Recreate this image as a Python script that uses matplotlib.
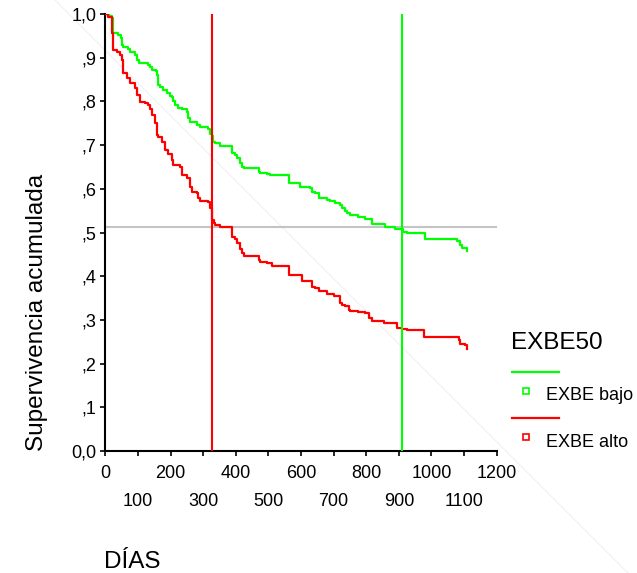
import matplotlib
matplotlib.use("Agg")
import matplotlib.pyplot as plt
from matplotlib.lines import Line2D
from matplotlib.ticker import FixedLocator, FixedFormatter

plt.rcParams['font.family'] = ['Liberation Sans', 'DejaVu Sans']

# Kaplan-Meier step data (time, cumulative survival)
bajo_t = [0, 10, 20, 25, 40, 47, 50, 55, 71, 76, 86, 91, 96, 104, 122, 132, 137, 142, 155, 158,
          163, 168, 178, 188, 198, 204, 209, 214, 224, 234, 250, 255, 260, 280, 290, 316, 321,
          326, 331, 337, 352, 388, 398, 403, 413, 418, 424, 470, 475, 490, 495, 505, 562, 597,
          628, 633, 643, 654, 679, 689, 705, 720, 725, 735, 741, 751, 776, 797, 817, 858, 889,
          914, 925, 981, 1078, 1088, 1093, 1109]
bajo_s = [1.0, 0.995, 0.99, 0.957, 0.952, 0.944, 0.929, 0.925, 0.921, 0.914, 0.912, 0.906, 0.895,
          0.889, 0.887, 0.883, 0.878, 0.872, 0.870, 0.860, 0.838, 0.832, 0.826, 0.819, 0.812,
          0.809, 0.802, 0.792, 0.786, 0.782, 0.776, 0.761, 0.754, 0.746, 0.741, 0.736, 0.725,
          0.721, 0.708, 0.704, 0.698, 0.683, 0.677, 0.670, 0.658, 0.651, 0.647, 0.639, 0.637,
          0.636, 0.634, 0.632, 0.613, 0.603, 0.601, 0.593, 0.590, 0.578, 0.574, 0.571, 0.568,
          0.563, 0.556, 0.550, 0.545, 0.540, 0.536, 0.531, 0.519, 0.512, 0.507, 0.502, 0.500,
          0.484, 0.480, 0.471, 0.464, 0.457]

alto_t = [0, 9, 20, 25, 35, 45, 50, 55, 66, 76, 91, 96, 106, 122, 132, 137, 142, 153, 158, 163,
          173, 183, 193, 204, 209, 229, 234, 250, 260, 265, 280, 285, 291, 316, 321, 326, 332,
          337, 352, 388, 398, 403, 413, 418, 424, 470, 475, 495, 510, 562, 602, 628, 633, 643,
          654, 679, 700, 720, 725, 735, 746, 751, 776, 797, 807, 817, 853, 894, 909, 925, 976,
          1083, 1088, 1104, 1109]
alto_s = [1.0, 0.994, 0.956, 0.918, 0.914, 0.906, 0.895, 0.864, 0.853, 0.843, 0.830, 0.815,
          0.799, 0.797, 0.792, 0.782, 0.769, 0.750, 0.723, 0.718, 0.708, 0.689, 0.680, 0.666,
          0.654, 0.651, 0.632, 0.624, 0.605, 0.593, 0.590, 0.578, 0.571, 0.569, 0.555, 0.529,
          0.522, 0.517, 0.513, 0.490, 0.484, 0.477, 0.462, 0.452, 0.446, 0.438, 0.433, 0.430,
          0.423, 0.403, 0.390, 0.388, 0.376, 0.372, 0.365, 0.359, 0.355, 0.339, 0.334, 0.331,
          0.323, 0.320, 0.318, 0.316, 0.304, 0.298, 0.294, 0.281, 0.279, 0.277, 0.260, 0.254,
          0.245, 0.242, 0.233]

median_alto = 328
median_bajo = 909
median_level = 0.512

x_major = [0, 200, 400, 600, 800, 1000, 1200]
x_minor = [100, 300, 500, 700, 900, 1100]
y_ticks = [0.0, 0.1, 0.2, 0.3, 0.4, 0.5, 0.6, 0.7, 0.8, 0.9, 1.0]
y_labels = ['0,0', ',1', ',2', ',3', ',4', ',5', ',6', ',7', ',8', ',9', '1,0']

legend_title = 'EXBE50'
legend_labels = ['EXBE bajo', 'EXBE alto']
GREEN = '#00ff00'
RED = '#ff0000'

W, H = 637, 573
fig = plt.figure(figsize=(W / 100, H / 100), dpi=100)

def fx(px):
    return px / W

def fy(py):
    return 1 - py / H

# faint diagonal line across the figure
fig.add_artist(Line2D([fx(55), fx(628)], [fy(0), fy(573)], color='#ededed', lw=0.6,
                      transform=fig.transFigure, zorder=0))

ax = fig.add_axes([fx(105.3), fy(451), fx(496.7) - fx(105.3), fy(14) - fy(451)])
ax.patch.set_alpha(0)

ax.step(bajo_t, bajo_s, where='post', color=GREEN, lw=1.6, zorder=3)
ax.step(alto_t, alto_s, where='post', color=RED, lw=1.6, zorder=3)

ax.axhline(median_level, color='#c4c4c4', lw=1.5, zorder=2)
ax.axvline(median_alto, color=RED, lw=1.5, zorder=4)
ax.axvline(median_bajo, color=GREEN, lw=1.5, zorder=4)

ax.set_xlim(0, 1200)
ax.set_ylim(0, 1.0)

for s in ['top', 'right']:
    ax.spines[s].set_visible(False)
for s in ['left', 'bottom']:
    ax.spines[s].set_linewidth(1.5)

ax.xaxis.set_major_locator(FixedLocator(x_major))
ax.xaxis.set_major_formatter(FixedFormatter([str(v) for v in x_major]))
ax.xaxis.set_minor_locator(FixedLocator(x_minor))
ax.xaxis.set_minor_formatter(FixedFormatter([str(v) for v in x_minor]))
ax.tick_params(axis='x', which='major', direction='out', length=3.5, width=1.2,
               labelsize=13, pad=6.5)
ax.tick_params(axis='x', which='minor', direction='out', length=3.5, width=1.2,
               labelsize=13, pad=27)

ax.set_yticks(y_ticks)
ax.set_yticklabels(y_labels)
ax.tick_params(axis='y', direction='out', length=3.8, width=1.2, labelsize=13, pad=2.5)

fig.text(fx(37), fy(312), 'Supervivencia acumulada', fontsize=17.5, rotation=90,
         ha='center', va='center')

fig.text(fx(104), fy(568), 'DÍAS', fontsize=17.5, ha='left', va='baseline')

# legend drawn by hand
fig.text(fx(511), fy(343), legend_title, fontsize=17.5, ha='left', va='center')
for i, (lab, col) in enumerate(zip(legend_labels, [GREEN, RED])):
    ly = 371.7 + i * 46.6
    fig.add_artist(Line2D([fx(511.5), fx(558.5)], [fy(ly), fy(ly)], color=col, lw=1.6,
                          transform=fig.transFigure))
    fig.add_artist(Line2D([fx(526)], [fy(ly + 19)], marker='s', markersize=5,
                          markerfacecolor='none', markeredgecolor=col, markeredgewidth=1.2,
                          linestyle='none', transform=fig.transFigure))
    fig.text(fx(546), fy(ly + 24), lab, fontsize=13, ha='left', va='center')

fig.savefig('out.png', dpi=100)
